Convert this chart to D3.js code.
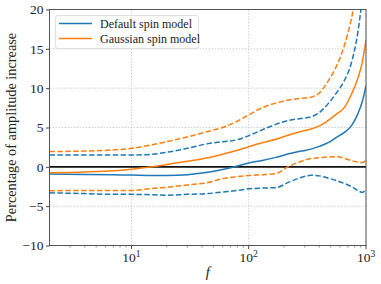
<!DOCTYPE html>
<html>
<head>
<meta charset="utf-8">
<script src="https://cdn.jsdelivr.net/npm/d3@7"></script>
<style>
  body { margin: 0; background: #fff; }
</style>
</head>
<body>
<div id="chart"></div>
<script>
// frequencies shared by every series
const freqs = [2, 4, 7, 10, 15, 20, 30, 45, 60, 80, 100, 130, 170, 220, 280, 340, 400, 480, 560, 650, 750, 850, 930, 1000]

// default spin model: mean and band
const defaultMean = [-0.9, -0.97, -1.02, -1.05, -1.1, -1.1, -1.0, -0.7, -0.35, 0.1, 0.5, 0.8, 1.2, 1.65, 2.0, 2.25, 2.6, 3.1, 3.75, 4.35, 5.2, 6.7, 8.3, 10.3]
const defaultHigh = [1.5, 1.5, 1.5, 1.5, 1.6, 1.85, 2.35, 2.95, 3.2, 3.45, 3.95, 4.7, 5.4, 5.9, 6.15, 6.35, 6.9, 8.1, 9.4, 10.9, 13.2, 17, 21.5, 26]
const defaultLow = [-3.3, -3.4, -3.5, -3.5, -3.55, -3.6, -3.5, -3.4, -3.2, -3.0, -2.8, -2.7, -2.65, -1.95, -1.35, -1.08, -1.15, -1.45, -1.75, -2.1, -2.5, -3.0, -3.25, -2.9]

// gaussian spin model: mean and band
const gaussMean = [-0.75, -0.65, -0.5, -0.3, 0.0, 0.3, 0.7, 1.15, 1.6, 2.1, 2.55, 3.05, 3.5, 4.05, 4.5, 4.8, 5.2, 5.95, 6.7, 7.5, 9.2, 11.2, 13.3, 16.1]
const gaussHigh = [1.95, 2.0, 2.15, 2.35, 2.8, 3.2, 3.8, 4.5, 5.0, 5.8, 6.6, 7.5, 8.1, 8.5, 8.7, 8.85, 9.4, 11.0, 12.8, 15.3, 18.8, 23, 27, 30]
const gaussLow = [-3.05, -3.0, -3.0, -3.0, -2.75, -2.6, -2.3, -2.0, -1.5, -1.25, -1.1, -1.0, -0.85, 0.05, 0.7, 1.05, 1.15, 1.25, 1.28, 1.1, 0.8, 0.6, 0.55, 0.85]

const yTicks = [-10, -5, 0, 5, 10, 15, 20]
const xTicks = [10, 100, 1000]
const legendLabels = ['Default spin model', 'Gaussian spin model']

const blue = '#1f77b4'
const orange = '#ff7f0e'
const serif = 'Liberation Serif'

const params = {
  width: 381,
  height: 284,
  marginTop: 9.5,
  marginBottom: 38.5,
  marginLeft: 49.5,
  marginRight: 15,
}

const svg = d3.select('#chart')
  .append('svg')
  .attr('width', params.width)
  .attr('height', params.height)
  .attr('font-family', serif)

const x = d3.scaleLog()
  .domain([2, 1000])
  .range([params.marginLeft, params.width - params.marginRight])

const y = d3.scaleLinear()
  .domain([-10, 20])
  .range([params.height - params.marginBottom, params.marginTop])

// grid
const grid = svg.append('g')
grid.selectAll('.gy')
  .data(yTicks)
  .enter()
  .append('line')
  .attr('x1', x.range()[0]).attr('x2', x.range()[1])
  .attr('y1', d => y(d)).attr('y2', d => y(d))
  .attr('stroke', '#c4c4c4')
  .attr('stroke-width', 0.8)
  .attr('stroke-dasharray', '1.5,1.5')
grid.selectAll('.gx')
  .data(xTicks)
  .enter()
  .append('line')
  .attr('x1', d => x(d)).attr('x2', d => x(d))
  .attr('y1', y.range()[0]).attr('y2', y.range()[1])
  .attr('stroke', '#c4c4c4')
  .attr('stroke-width', 0.8)
  .attr('stroke-dasharray', '1.5,1.5')

// clip for curves
svg.append('clipPath').attr('id', 'plotclip')
  .append('rect')
  .attr('x', params.marginLeft)
  .attr('y', params.marginTop)
  .attr('width', x.range()[1] - x.range()[0])
  .attr('height', y.range()[0] - y.range()[1])

const plot = svg.append('g').attr('clip-path', 'url(#plotclip)')

// zero line
plot.append('line')
  .attr('x1', x.range()[0]).attr('x2', x.range()[1])
  .attr('y1', y(0)).attr('y2', y(0))
  .attr('stroke', '#111')
  .attr('stroke-width', 1.8)

const line = d3.line()
  .x((d, i) => x(freqs[i]))
  .y(d => y(d))
  .curve(d3.curveMonotoneX)

const series = [
  { values: defaultHigh, color: blue, dash: '5.5,2.4' },
  { values: defaultLow, color: blue, dash: '5.5,2.4' },
  { values: gaussHigh, color: orange, dash: '5.5,2.4' },
  { values: gaussLow, color: orange, dash: '5.5,2.4' },
  { values: defaultMean, color: blue, dash: null },
  { values: gaussMean, color: orange, dash: null },
]

plot.selectAll('path.series')
  .data(series)
  .enter()
  .append('path')
  .attr('class', 'series')
  .attr('d', d => line(d.values))
  .attr('fill', 'none')
  .attr('stroke', d => d.color)
  .attr('stroke-width', 1.5)
  .attr('stroke-dasharray', d => d.dash)

// axes
const yAxis = svg.append('g')
  .attr('transform', `translate(${params.marginLeft},0)`)
  .call(d3.axisLeft(y).tickValues(yTicks).tickSize(3.5).tickPadding(2.5)
    .tickFormat(d => d < 0 ? '\u2212' + Math.abs(d) : d))
yAxis.attr('font-family', null)
yAxis.select('.domain').remove()
yAxis.selectAll('text')
  .attr('font-family', serif)
  .attr('font-size', 13.5)
  .attr('fill', '#222')
yAxis.selectAll('line').attr('stroke', '#444')

const minorTicks = []
for (let dec = 1; dec <= 100; dec *= 10) {
  for (let k = 2; k <= 9; k++) {
    const v = k * dec
    if (v > 2 && v < 1000 && v !== 10 && v !== 100) minorTicks.push(v)
  }
}

const xAxisG = svg.append('g')
  .attr('transform', `translate(0,${y.range()[0]})`)
xAxisG.selectAll('.minor')
  .data(minorTicks)
  .enter()
  .append('line')
  .attr('x1', d => x(d)).attr('x2', d => x(d))
  .attr('y1', 0).attr('y2', 2)
  .attr('stroke', '#444')
  .attr('stroke-width', 0.6)
xAxisG.selectAll('.major')
  .data(xTicks)
  .enter()
  .append('line')
  .attr('x1', d => x(d)).attr('x2', d => x(d))
  .attr('y1', 0).attr('y2', 3.5)
  .attr('stroke', '#444')

const xLabels = xAxisG.selectAll('.xl')
  .data(xTicks)
  .enter()
  .append('text')
  .attr('x', d => x(d))
  .attr('y', 16)
  .attr('text-anchor', 'middle')
  .attr('font-family', serif)
  .attr('font-size', 13.5)
  .attr('fill', '#222')
xLabels.append('tspan').text('10')
xLabels.append('tspan')
  .attr('dy', -5)
  .attr('font-size', 9.5)
  .text(d => Math.round(Math.log10(d)))

// frame
svg.append('rect')
  .attr('x', params.marginLeft)
  .attr('y', params.marginTop)
  .attr('width', x.range()[1] - x.range()[0])
  .attr('height', y.range()[0] - y.range()[1])
  .attr('fill', 'none')
  .attr('stroke', '#555')
  .attr('stroke-width', 1)

// axis labels
svg.append('text')
  .attr('x', (x.range()[0] + x.range()[1]) / 2)
  .attr('y', 277)
  .attr('text-anchor', 'middle')
  .attr('font-family', serif)
  .attr('font-size', 14.5)
  .attr('font-style', 'italic')
  .attr('fill', '#222')
  .text('f')

svg.append('text')
  .attr('transform', `translate(16,${(y.range()[0] + y.range()[1]) / 2}) rotate(-90)`)
  .attr('text-anchor', 'middle')
  .attr('font-family', serif)
  .attr('font-size', 14.3)
  .attr('fill', '#222')
  .text('Percentage of amplitude increase')

// legend
const legend = svg.append('g')
legend.append('rect')
  .attr('x', 55.5).attr('y', 15.5)
  .attr('width', 143).attr('height', 33)
  .attr('rx', 2.5)
  .attr('fill', 'white')
  .attr('fill-opacity', 0.85)
  .attr('stroke', '#d8d8d8')
  .attr('stroke-width', 0.8)

const legendItems = legend.selectAll('.item')
  .data(legendLabels)
  .enter()
  .append('g')
  .attr('transform', (d, i) => `translate(0,${23.5 + i * 15})`)
legendItems.append('line')
  .attr('x1', 59).attr('x2', 92)
  .attr('stroke', (d, i) => i === 0 ? blue : orange)
  .attr('stroke-width', 1.5)
legendItems.append('text')
  .attr('x', 100)
  .attr('y', 4)
  .attr('font-family', serif)
  .attr('font-size', 12)
  .attr('fill', '#222')
  .text(d => d)
</script>
</body>
</html>
